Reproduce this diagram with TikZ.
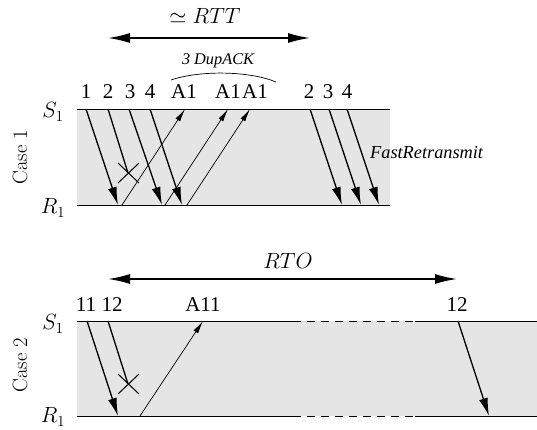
\RequirePackage{fix-cm}
\documentclass[tikz,border=0pt]{standalone}
\usepackage{fontspec}
\newfontfamily\timesf{Liberation Serif}
\usetikzlibrary{arrows.meta}
\begin{document}
\begin{tikzpicture}[x=1pt,y=-1pt,
  lane/.style={line width=0.8pt},
  data/.style={line width=1.3pt,-{Latex[length=18pt,width=9pt]}},
  ack/.style={line width=0.7pt,-{Latex[length=13pt,width=5.5pt]}},
  span/.style={line width=1.6pt,{Latex[length=22pt,width=10pt]}-{Latex[length=22pt,width=10pt]}},
  crossl/.style={line width=1pt},
  num/.style={font=\timesf\fontsize{21}{25}\selectfont,anchor=base,inner sep=0pt},
  itl/.style={font=\timesf\itshape\fontsize{16.3}{19}\selectfont,inner sep=0pt},
  mathl/.style={font=\fontsize{22}{26}\selectfont,inner sep=0pt},
  casel/.style={font=\fontsize{20.7}{24}\selectfont,rotate=90,inner sep=0pt}
]
\useasboundingbox (0,0) rectangle (537,430);
% ---------- Case 1 ----------
\fill[gray!20] (77,109) rectangle (390,205);
\coordinate (s1a) at (77,109); \coordinate (s1b) at (390,109);
\coordinate (r1a) at (77,205); \coordinate (r1b) at (390,205);
\draw[lane] (s1a) -- (s1b);
\draw[lane] (r1a) -- (r1b);
\node[mathl] (S1a) at (53,112) {$S_1$};
\node[mathl] (R1a) at (53,208) {$R_1$};
\node[casel] (case1) at (20,157) {Case 1};
% RTT
\coordinate (rttL) at (108,38); \coordinate (rttR) at (310,38);
\draw[span] (rttL) -- (rttR);
\node[mathl,anchor=base] (rtt) at (205,24) {$\simeq RTT$};
% labels
\node[num] (n1) at (86,99) {1};
\node[num] (n2) at (108,99) {2};
\node[num] (n3) at (130,99) {3};
\node[num] (n4) at (150,99) {4};
\node[num] (a1) at (184,99) {A1};
\node[num] (a2) at (228,99) {A1};
\node[num] (a3) at (255,99) {A1};
\node[num] (m2) at (309,99) {2};
\node[num] (m3) at (328,99) {3};
\node[num] (m4) at (347,99) {4};
\node[itl,anchor=base] (dup) at (218,65) {3 DupACK};
\coordinate (arcL) at (171,80); \coordinate (arcR) at (276,82);
\draw[line width=0.7pt] (arcL) .. controls (200,70) and (250,71) .. (arcR);
\node[itl,font=\timesf\itshape\fontsize{18.3}{21}\selectfont,anchor=west] (fr) at (370,153) {FastRetransmit};
% packets
\coordinate (p1s) at (86,109);  \coordinate (p1e) at (118,205);
\coordinate (p2s) at (108,109); \coordinate (p2e) at (128,173);
\coordinate (p3s) at (129,109); \coordinate (p3e) at (162,205);
\coordinate (p4s) at (150,109); \coordinate (p4e) at (182,205);
\draw[data] (p1s) -- (p1e);
\draw[line width=1.3pt] (p2s) -- (p2e);
\draw[data] (p3s) -- (p3e);
\draw[data] (p4s) -- (p4e);
\draw[crossl] (118,163) -- (139,183) (118,183) -- (139,163);
% acks
\coordinate (k1s) at (122,205); \coordinate (k1e) at (185,109);
\coordinate (k2s) at (165,205); \coordinate (k2e) at (228,109);
\coordinate (k3s) at (187,205); \coordinate (k3e) at (250,109);
\draw[ack] (k1s) -- (k1e);
\draw[ack] (k2s) -- (k2e);
\draw[ack] (k3s) -- (k3e);
% retransmissions
\coordinate (q2s) at (310,109); \coordinate (q2e) at (342,205);
\coordinate (q3s) at (329,109); \coordinate (q3e) at (361,205);
\coordinate (q4s) at (347,109); \coordinate (q4e) at (379,205);
\draw[data] (q2s) -- (q2e);
\draw[data] (q3s) -- (q3e);
\draw[data] (q4s) -- (q4e);
% ---------- Case 2 ----------
\fill[gray!20] (77,321) rectangle (537,416);
\coordinate (s2a) at (77,321); \coordinate (s2d) at (293,321); \coordinate (s2e) at (415,321); \coordinate (s2b) at (537,321);
\coordinate (r2a) at (77,416); \coordinate (r2d) at (293,416); \coordinate (r2e) at (415,416); \coordinate (r2b) at (537,416);
\draw[lane] (s2a) -- (s2d);
\draw[lane,dash pattern=on 8pt off 6pt] (s2d) -- (s2e);
\draw[lane] (s2e) -- (s2b);
\draw[lane] (r2a) -- (r2d);
\draw[lane,dash pattern=on 8pt off 6pt] (r2d) -- (r2e);
\draw[lane] (r2e) -- (r2b);
\node[mathl] (S1b) at (53,324) {$S_1$};
\node[mathl] (R1b) at (53,417) {$R_1$};
\node[casel] (case2) at (20,365) {Case 2};
\coordinate (rtoL) at (108,279); \coordinate (rtoR) at (457,279);
\draw[span] (rtoL) -- (rtoR);
\node[mathl,anchor=base] (rto) at (288,268) {$RTO$};
\node[num] (c11) at (86,311) {11};
\node[num] (c12) at (112,311) {12};
\node[num] (ca11) at (203,311) {A11};
\node[num] (c12b) at (457,311) {12};
\coordinate (u1s) at (87,321);  \coordinate (u1e) at (118,416);
\coordinate (u2s) at (108,321); \coordinate (u2e) at (128,384);
\coordinate (u3s) at (140,416); \coordinate (u3e) at (203,321);
\coordinate (u4s) at (458,321); \coordinate (u4e) at (489,416);
\draw[data] (u1s) -- (u1e);
\draw[line width=1.3pt] (u2s) -- (u2e);
\draw[crossl] (118,374) -- (139,394) (118,394) -- (139,374);
\draw[ack] (u3s) -- (u3e);
\draw[data] (u4s) -- (u4e);
\end{tikzpicture}
\end{document}
